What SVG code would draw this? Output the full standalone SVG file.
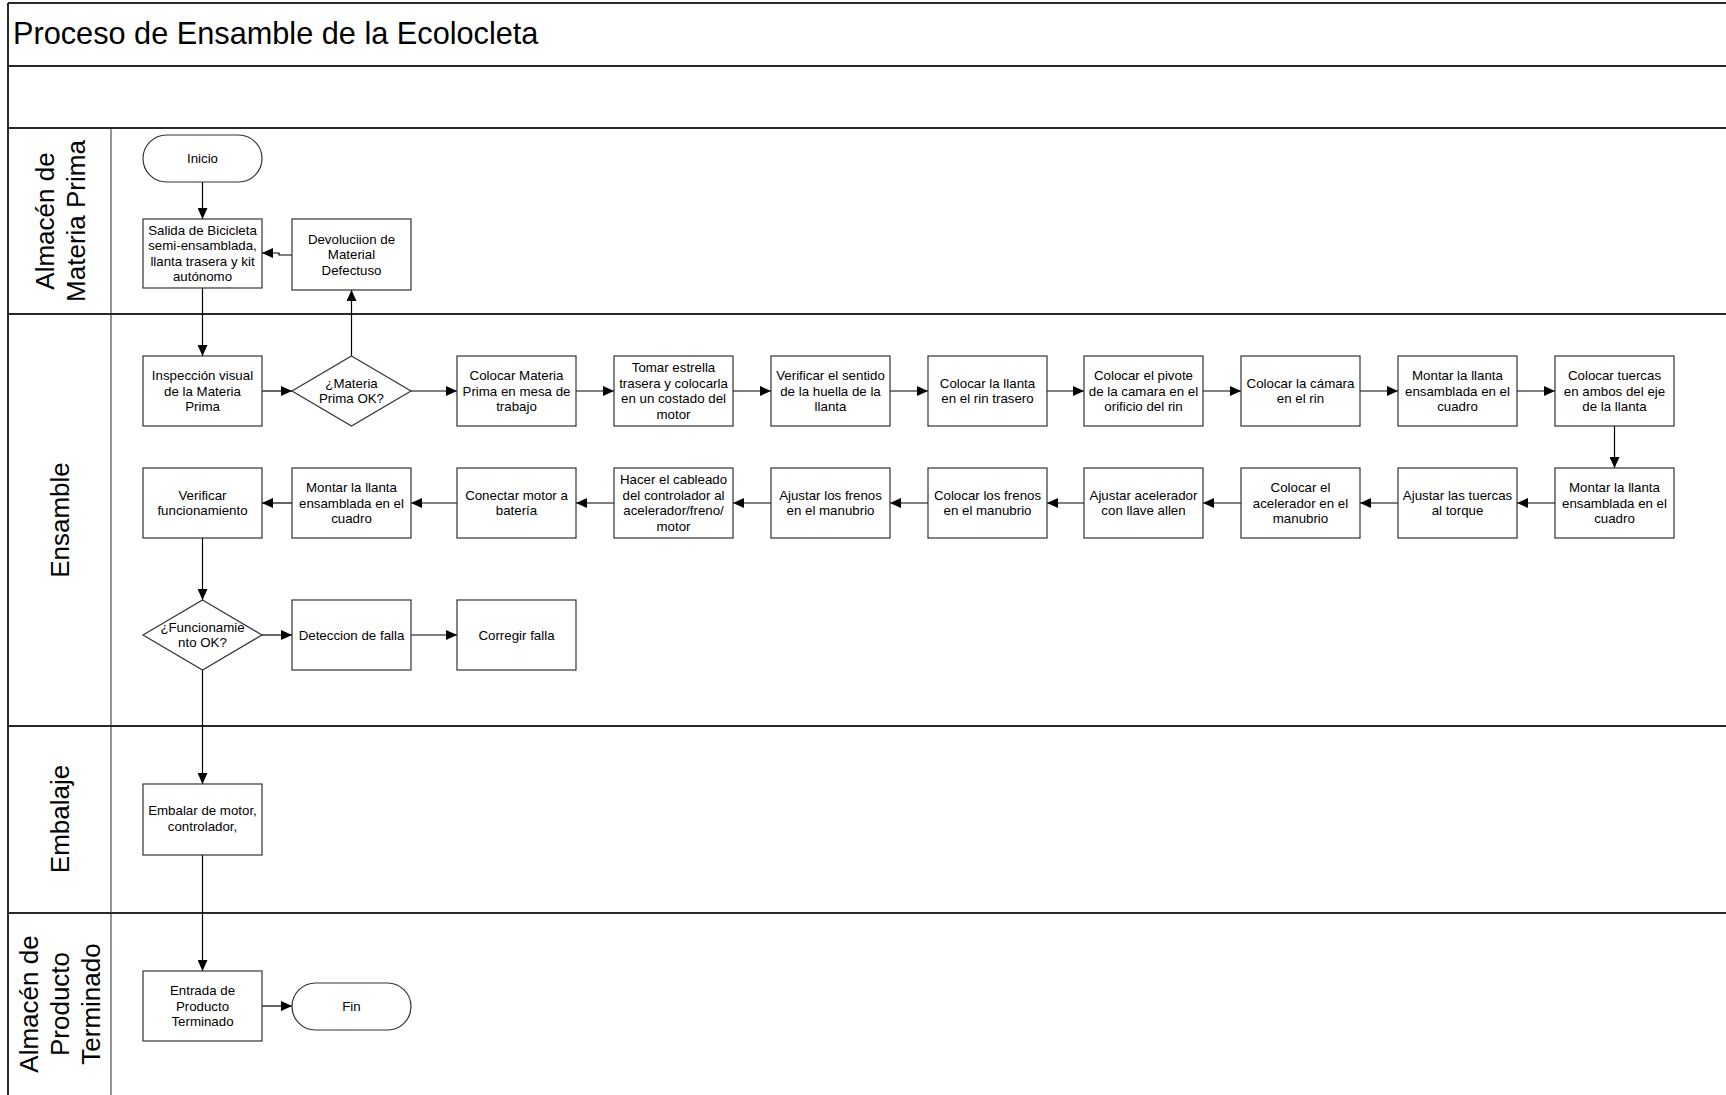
<svg xmlns="http://www.w3.org/2000/svg" width="1726" height="1095" viewBox="0 0 1726 1095">
<style>
.frame{fill:none;stroke:#2a2a2a;stroke-width:2}
.thin{fill:none;stroke:#2a2a2a;stroke-width:1}
.box{fill:#fff;stroke:#333;stroke-width:1.2}
.t{font-family:"Liberation Sans",Arial,sans-serif;font-size:13.3px;fill:#000;text-anchor:middle}
.lane{font-family:"Liberation Sans",Arial,sans-serif;font-size:26px;fill:#000;text-anchor:middle}
.title{font-family:"Liberation Sans",Arial,sans-serif;font-size:30.7px;fill:#000}
.c{fill:none;stroke:#000;stroke-width:1.2;marker-end:url(#ah)}
</style>
<defs>
<marker id="ah" markerUnits="userSpaceOnUse" markerWidth="11" markerHeight="10" refX="11" refY="5" orient="auto">
<path d="M0,0 L11,5 L0,10 z" fill="#000"/>
</marker>
</defs>
<rect width="1726" height="1095" fill="#fff"/>
<g id="pool">
<line class="frame" x1="8" y1="3" x2="1726" y2="3"/>
<line class="frame" x1="8" y1="3" x2="8" y2="1095"/>
<line class="frame" x1="8" y1="66" x2="1726" y2="66"/>
<line class="frame" x1="8" y1="128" x2="1726" y2="128"/>
<line class="frame" x1="8" y1="314" x2="1726" y2="314"/>
<line class="frame" x1="8" y1="726" x2="1726" y2="726"/>
<line class="frame" x1="8" y1="913" x2="1726" y2="913"/>
<line class="thin" x1="111" y1="128" x2="111" y2="1095"/>
<text class="title" x="13" y="44">Proceso de Ensamble de la Ecolocleta</text>
<text class="lane" transform="translate(59.5,221) rotate(-90)"><tspan x="0" y="-6">Almacén de</tspan><tspan x="0" y="25">Materia Prima</tspan></text>
<text class="lane" transform="translate(59.5,520) rotate(-90)" x="0" y="9">Ensamble</text>
<text class="lane" transform="translate(59.5,819) rotate(-90)" x="0" y="9">Embalaje</text>
<text class="lane" transform="translate(59.5,1004) rotate(-90)"><tspan x="0" y="-22">Almacén de</tspan><tspan x="0" y="9">Producto</tspan><tspan x="0" y="40">Terminado</tspan></text>
</g>
<g id="connectors">
<path class="c" d="M202.5,182 V219"/>
<path class="c" d="M292,255 H279 V253 H262"/>
<path class="c" d="M202.5,288 V356"/>
<path class="c" d="M351.5,356 V290"/>
<path class="c" d="M262,391 H292"/>
<path class="c" d="M411,391 H457"/>
<path class="c" d="M576,391 H614"/>
<path class="c" d="M733,391 H771"/>
<path class="c" d="M890,391 H928"/>
<path class="c" d="M1047,391 H1084"/>
<path class="c" d="M1203,391 H1241"/>
<path class="c" d="M1360,391 H1398"/>
<path class="c" d="M1517,391 H1555"/>
<path class="c" d="M1614.5,426 V468"/>
<path class="c" d="M1555,503 H1517"/>
<path class="c" d="M1398,503 H1360"/>
<path class="c" d="M1241,503 H1203"/>
<path class="c" d="M1084,503 H1047"/>
<path class="c" d="M928,503 H890"/>
<path class="c" d="M771,503 H733"/>
<path class="c" d="M614,503 H576"/>
<path class="c" d="M457,503 H411"/>
<path class="c" d="M292,503 H262"/>
<path class="c" d="M202.5,538 V600"/>
<path class="c" d="M262,635 H292"/>
<path class="c" d="M411,635 H457"/>
<path class="c" d="M202.5,670 V784"/>
<path class="c" d="M202.5,855 V971"/>
<path class="c" d="M262,1006 H292"/>
</g>
<g id="n-inicio"><rect class="box" x="143" y="135" width="119" height="47" rx="23.5"/><text class="t" x="202.5" y="163.2">Inicio</text></g>
<g id="n-salida"><rect class="box" x="143" y="219" width="119" height="69"/><text class="t"><tspan x="202.5" y="234.9">Salida de Bicicleta</tspan><tspan x="202.5" y="250.4">semi-ensamblada,</tspan><tspan x="202.5" y="265.9">llanta trasera y kit</tspan><tspan x="202.5" y="281.4">autónomo</tspan></text></g>
<g id="n-devolucion"><rect class="box" x="292" y="219" width="119" height="71"/><text class="t"><tspan x="351.5" y="243.7">Devoluciion de</tspan><tspan x="351.5" y="259.2">Material</tspan><tspan x="351.5" y="274.7">Defectuso</tspan></text></g>
<g id="n-inspeccion"><rect class="box" x="143" y="356" width="119" height="70"/><text class="t"><tspan x="202.5" y="380.2">Inspección visual</tspan><tspan x="202.5" y="395.7">de la Materia</tspan><tspan x="202.5" y="411.2">Prima</tspan></text></g>
<g id="n-mp-ok"><polygon class="box" points="351.5,356 411,391 351.5,426 292,391"/><text class="t"><tspan x="351.5" y="387.9">¿Materia</tspan><tspan x="351.5" y="403.4">Prima OK?</tspan></text></g>
<g id="n-colocar-mp"><rect class="box" x="457" y="356" width="119" height="70"/><text class="t"><tspan x="516.5" y="380.2">Colocar Materia</tspan><tspan x="516.5" y="395.7">Prima en mesa de</tspan><tspan x="516.5" y="411.2">trabajo</tspan></text></g>
<g id="n-tomar"><rect class="box" x="614" y="356" width="119" height="70"/><text class="t"><tspan x="673.5" y="372.4">Tomar estrella</tspan><tspan x="673.5" y="387.9">trasera y colocarla</tspan><tspan x="673.5" y="403.4">en un costado del</tspan><tspan x="673.5" y="418.9">motor</tspan></text></g>
<g id="n-verificar-sentido"><rect class="box" x="771" y="356" width="119" height="70"/><text class="t"><tspan x="830.5" y="380.2">Verificar el sentido</tspan><tspan x="830.5" y="395.7">de la huella de la</tspan><tspan x="830.5" y="411.2">llanta</tspan></text></g>
<g id="n-colocar-llanta"><rect class="box" x="928" y="356" width="119" height="70"/><text class="t"><tspan x="987.5" y="387.9">Colocar la llanta</tspan><tspan x="987.5" y="403.4">en el rin trasero</tspan></text></g>
<g id="n-pivote"><rect class="box" x="1084" y="356" width="119" height="70"/><text class="t"><tspan x="1143.5" y="380.2">Colocar el pivote</tspan><tspan x="1143.5" y="395.7">de la camara en el</tspan><tspan x="1143.5" y="411.2">orificio del rin</tspan></text></g>
<g id="n-camara"><rect class="box" x="1241" y="356" width="119" height="70"/><text class="t"><tspan x="1300.5" y="387.9">Colocar la cámara</tspan><tspan x="1300.5" y="403.4">en el rin</tspan></text></g>
<g id="n-montar1"><rect class="box" x="1398" y="356" width="119" height="70"/><text class="t"><tspan x="1457.5" y="380.2">Montar la llanta</tspan><tspan x="1457.5" y="395.7">ensamblada en el</tspan><tspan x="1457.5" y="411.2">cuadro</tspan></text></g>
<g id="n-tuercas"><rect class="box" x="1555" y="356" width="119" height="70"/><text class="t"><tspan x="1614.5" y="380.2">Colocar tuercas</tspan><tspan x="1614.5" y="395.7">en ambos del eje</tspan><tspan x="1614.5" y="411.2">de la llanta</tspan></text></g>
<g id="n-montar2"><rect class="box" x="1555" y="468" width="119" height="70"/><text class="t"><tspan x="1614.5" y="492.2">Montar la llanta</tspan><tspan x="1614.5" y="507.7">ensamblada en el</tspan><tspan x="1614.5" y="523.2">cuadro</tspan></text></g>
<g id="n-ajustar-tuercas"><rect class="box" x="1398" y="468" width="119" height="70"/><text class="t"><tspan x="1457.5" y="499.9">Ajustar las tuercas</tspan><tspan x="1457.5" y="515.4">al torque</tspan></text></g>
<g id="n-colocar-acel"><rect class="box" x="1241" y="468" width="119" height="70"/><text class="t"><tspan x="1300.5" y="492.2">Colocar el</tspan><tspan x="1300.5" y="507.7">acelerador en el</tspan><tspan x="1300.5" y="523.2">manubrio</tspan></text></g>
<g id="n-ajustar-acel"><rect class="box" x="1084" y="468" width="119" height="70"/><text class="t"><tspan x="1143.5" y="499.9">Ajustar acelerador</tspan><tspan x="1143.5" y="515.4">con llave allen</tspan></text></g>
<g id="n-colocar-frenos"><rect class="box" x="928" y="468" width="119" height="70"/><text class="t"><tspan x="987.5" y="499.9">Colocar los frenos</tspan><tspan x="987.5" y="515.4">en el manubrio</tspan></text></g>
<g id="n-ajustar-frenos"><rect class="box" x="771" y="468" width="119" height="70"/><text class="t"><tspan x="830.5" y="499.9">Ajustar los frenos</tspan><tspan x="830.5" y="515.4">en el manubrio</tspan></text></g>
<g id="n-cableado"><rect class="box" x="614" y="468" width="119" height="70"/><text class="t"><tspan x="673.5" y="484.4">Hacer el cableado</tspan><tspan x="673.5" y="499.9">del controlador al</tspan><tspan x="673.5" y="515.4">acelerador/freno/</tspan><tspan x="673.5" y="530.9">motor</tspan></text></g>
<g id="n-conectar"><rect class="box" x="457" y="468" width="119" height="70"/><text class="t"><tspan x="516.5" y="499.9">Conectar motor a</tspan><tspan x="516.5" y="515.4">batería</tspan></text></g>
<g id="n-montar3"><rect class="box" x="292" y="468" width="119" height="70"/><text class="t"><tspan x="351.5" y="492.2">Montar la llanta</tspan><tspan x="351.5" y="507.7">ensamblada en el</tspan><tspan x="351.5" y="523.2">cuadro</tspan></text></g>
<g id="n-verificar-func"><rect class="box" x="143" y="468" width="119" height="70"/><text class="t"><tspan x="202.5" y="499.9">Verificar</tspan><tspan x="202.5" y="515.4">funcionamiento</tspan></text></g>
<g id="n-func-ok"><polygon class="box" points="202.5,600 262,635 202.5,670 143,635"/><text class="t"><tspan x="202.5" y="631.9">¿Funcionamie</tspan><tspan x="202.5" y="647.4">nto OK?</tspan></text></g>
<g id="n-deteccion"><rect class="box" x="292" y="600" width="119" height="70"/><text class="t" x="351.5" y="639.7">Deteccion de falla</text></g>
<g id="n-corregir"><rect class="box" x="457" y="600" width="119" height="70"/><text class="t" x="516.5" y="639.7">Corregir falla</text></g>
<g id="n-embalar"><rect class="box" x="143" y="784" width="119" height="71"/><text class="t"><tspan x="202.5" y="815.4">Embalar de motor,</tspan><tspan x="202.5" y="830.9">controlador,</tspan></text></g>
<g id="n-entrada"><rect class="box" x="143" y="971" width="119" height="70"/><text class="t"><tspan x="202.5" y="995.2">Entrada de</tspan><tspan x="202.5" y="1010.7">Producto</tspan><tspan x="202.5" y="1026.2">Terminado</tspan></text></g>
<g id="n-fin"><rect class="box" x="292" y="983" width="119" height="47" rx="23.5"/><text class="t" x="351.5" y="1011.2">Fin</text></g>
</svg>
